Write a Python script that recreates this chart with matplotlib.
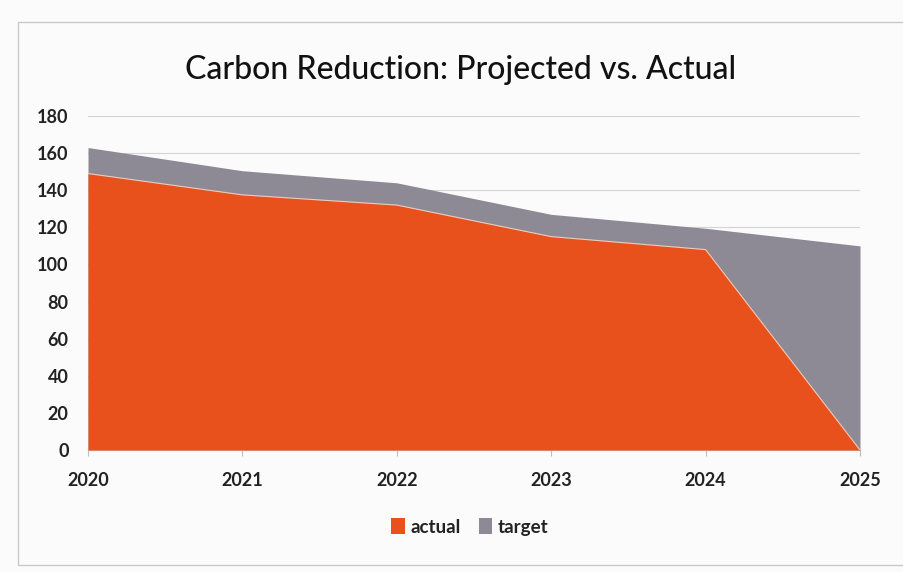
import matplotlib.pyplot as plt
from matplotlib.patches import Rectangle

years = [2020, 2021, 2022, 2023, 2024, 2025]
actual = [149, 137.5, 132, 115, 108, 0]
target = [163, 150.5, 144, 127, 119.5, 110]
y_ticks = list(range(0, 181, 20))

orange = '#E9511C'
grey = '#8D8A95'

plt.rcParams['font.family'] = ['Lato', 'DejaVu Sans']

fig = plt.figure(figsize=(9.04, 5.72), dpi=100)
fig.patch.set_facecolor('#FBFBFB')

# chart frame
fig.add_artist(Rectangle((18 / 904, 7 / 572), 1, 543 / 572, transform=fig.transFigure,
                         fill=False, edgecolor='#C8C8C8', linewidth=1))

ax = fig.add_axes([88 / 904, 1 - 450 / 572, 772 / 904, 334 / 572])
ax.set_facecolor('none')

ax.fill_between(years, 0, target, color=grey, linewidth=0, label='target', zorder=2)
ax.fill_between(years, 0, actual, color=orange, linewidth=0, label='actual', zorder=3)
ax.plot(years, actual, color='#F3C9B8', linewidth=0.8, zorder=4)

ax.set_xlim(2020, 2025)
ax.set_ylim(0, 180)
ax.set_yticks(y_ticks)
ax.set_xticks(years)
ax.set_xticklabels([str(y) for y in years])
ax.grid(axis='y', color='#D4D4D4', linewidth=0.8, zorder=0)
ax.set_axisbelow(True)
for s in ['top', 'right', 'left']:
    ax.spines[s].set_visible(False)
ax.spines['bottom'].set_color('#BFBFBF')
ax.tick_params(axis='y', length=0, pad=14, labelsize=13, labelcolor='#222222')
ax.tick_params(axis='x', length=4, color='#BFBFBF', pad=12, labelsize=13, labelcolor='#222222')
for lab in ax.get_xticklabels() + ax.get_yticklabels():
    lab.set_fontweight('bold')

fig.text(0.51, 1 - 70 / 572, 'Carbon Reduction: Projected vs. Actual', ha='center', va='center',
         fontsize=23, color='#111111', fontweight='medium')

handles, labels = ax.get_legend_handles_labels()
leg = fig.legend(handles[::-1], labels[::-1], loc='center', bbox_to_anchor=(0.52, 1 - 527 / 572),
                 ncol=2, frameon=False, fontsize=13.5, handlelength=0.7, handleheight=0.9,
                 columnspacing=1.0, handletextpad=0.3)
for t in leg.get_texts():
    t.set_fontweight('bold')
    t.set_color('#222222')

fig.savefig('out.png', dpi=100, facecolor=fig.get_facecolor())
